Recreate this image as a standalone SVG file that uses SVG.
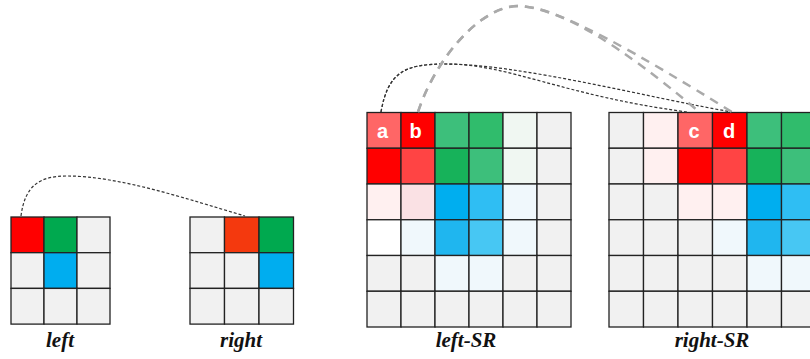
<svg xmlns="http://www.w3.org/2000/svg" width="810" height="359" viewBox="0 0 810 359">
<style>
.c{stroke:#222;stroke-width:1.3}
.g{fill:#F1F1F1}
.lbl{font-family:"Liberation Serif","Times New Roman",serif;font-weight:bold;font-style:italic;font-size:21px;fill:#111;text-anchor:middle}
.let{font-family:"Liberation Sans",Arial,sans-serif;font-weight:bold;font-size:20px;fill:#fff;text-anchor:middle}
.bk{fill:none;stroke:#333;stroke-width:1.2;stroke-dasharray:3 2}
.gr{fill:none;stroke:#AAAAAA;stroke-width:2.5;stroke-dasharray:9 7}
</style>
<rect width="810" height="359" fill="#fff"/>
<g id="left">
<g class="c">
<rect x="11" y="217" width="33" height="35.7" fill="#FF0000"/>
<rect x="44" y="217" width="33" height="35.7" fill="#00A94F"/>
<rect x="77" y="217" width="33" height="35.7" class="g"/>
<rect x="11" y="252.7" width="33" height="35.7" class="g"/>
<rect x="44" y="252.7" width="33" height="35.7" fill="#00ADEF"/>
<rect x="77" y="252.7" width="33" height="35.7" class="g"/>
<rect x="11" y="288.4" width="33" height="35.7" class="g"/>
<rect x="44" y="288.4" width="33" height="35.7" class="g"/>
<rect x="77" y="288.4" width="33" height="35.7" class="g"/>
</g>
<text class="lbl" x="60" y="347">left</text>
</g>
<g id="right">
<g class="c">
<rect x="190" y="217" width="34.5" height="35.7" class="g"/>
<rect x="224.5" y="217" width="34.5" height="35.7" fill="#F4390E"/>
<rect x="259" y="217" width="34.5" height="35.7" fill="#00A94F"/>
<rect x="190" y="252.7" width="34.5" height="35.7" class="g"/>
<rect x="224.5" y="252.7" width="34.5" height="35.7" class="g"/>
<rect x="259" y="252.7" width="34.5" height="35.7" fill="#00ADEF"/>
<rect x="190" y="288.4" width="34.5" height="35.7" class="g"/>
<rect x="224.5" y="288.4" width="34.5" height="35.7" class="g"/>
<rect x="259" y="288.4" width="34.5" height="35.7" class="g"/>
</g>
<text class="lbl" x="241" y="347">right</text>
</g>
<g id="left-SR">
<g class="c">
<rect x="367" y="112.5" width="34" height="35.75" fill="#FF6666"/>
<rect x="401" y="112.5" width="34" height="35.75" fill="#FF0000"/>
<rect x="435" y="112.5" width="34" height="35.75" fill="#3DBF7B"/>
<rect x="469" y="112.5" width="34" height="35.75" fill="#30BC6C"/>
<rect x="503" y="112.5" width="34" height="35.75" fill="#F0F7F2"/>
<rect x="537" y="112.5" width="34" height="35.75" class="g"/>
<rect x="367" y="148.25" width="34" height="35.75" fill="#FF0000"/>
<rect x="401" y="148.25" width="34" height="35.75" fill="#FF4444"/>
<rect x="435" y="148.25" width="34" height="35.75" fill="#17B25A"/>
<rect x="469" y="148.25" width="34" height="35.75" fill="#3DBF7B"/>
<rect x="503" y="148.25" width="34" height="35.75" fill="#F0F7F2"/>
<rect x="537" y="148.25" width="34" height="35.75" class="g"/>
<rect x="367" y="184" width="34" height="35.75" fill="#FFF0F0"/>
<rect x="401" y="184" width="34" height="35.75" fill="#FAE1E4"/>
<rect x="435" y="184" width="34" height="35.75" fill="#00AEEF"/>
<rect x="469" y="184" width="34" height="35.75" fill="#2FBEF3"/>
<rect x="503" y="184" width="34" height="35.75" fill="#F0F8FC"/>
<rect x="537" y="184" width="34" height="35.75" class="g"/>
<rect x="367" y="219.75" width="34" height="35.75" fill="#FFFFFF"/>
<rect x="401" y="219.75" width="34" height="35.75" fill="#F0F8FC"/>
<rect x="435" y="219.75" width="34" height="35.75" fill="#1FB6EF"/>
<rect x="469" y="219.75" width="34" height="35.75" fill="#47C7F3"/>
<rect x="503" y="219.75" width="34" height="35.75" fill="#F0F8FC"/>
<rect x="537" y="219.75" width="34" height="35.75" class="g"/>
<rect x="367" y="255.5" width="34" height="35.75" class="g"/>
<rect x="401" y="255.5" width="34" height="35.75" class="g"/>
<rect x="435" y="255.5" width="34" height="35.75" fill="#F0F8FC"/>
<rect x="469" y="255.5" width="34" height="35.75" fill="#F0F8FC"/>
<rect x="503" y="255.5" width="34" height="35.75" class="g"/>
<rect x="537" y="255.5" width="34" height="35.75" class="g"/>
<rect x="367" y="291.25" width="34" height="35.75" class="g"/>
<rect x="401" y="291.25" width="34" height="35.75" class="g"/>
<rect x="435" y="291.25" width="34" height="35.75" class="g"/>
<rect x="469" y="291.25" width="34" height="35.75" class="g"/>
<rect x="503" y="291.25" width="34" height="35.75" class="g"/>
<rect x="537" y="291.25" width="34" height="35.75" class="g"/>
</g>
<text class="let" x="382.5" y="137.5">a</text>
<text class="let" x="415.5" y="137.5">b</text>
<text class="lbl" x="466" y="347">left-SR</text>
</g>
<g id="right-SR">
<g class="c">
<rect x="609" y="112.5" width="34.5" height="35.75" class="g"/>
<rect x="643.5" y="112.5" width="34.5" height="35.75" fill="#FFF0F0"/>
<rect x="678" y="112.5" width="34.5" height="35.75" fill="#FF6666"/>
<rect x="712.5" y="112.5" width="34.5" height="35.75" fill="#FF0000"/>
<rect x="747" y="112.5" width="34.5" height="35.75" fill="#3DBF7B"/>
<rect x="781.5" y="112.5" width="34.5" height="35.75" fill="#30BC6C"/>
<rect x="609" y="148.25" width="34.5" height="35.75" class="g"/>
<rect x="643.5" y="148.25" width="34.5" height="35.75" fill="#FFF0F0"/>
<rect x="678" y="148.25" width="34.5" height="35.75" fill="#FF0000"/>
<rect x="712.5" y="148.25" width="34.5" height="35.75" fill="#FF4444"/>
<rect x="747" y="148.25" width="34.5" height="35.75" fill="#17B25A"/>
<rect x="781.5" y="148.25" width="34.5" height="35.75" fill="#3DBF7B"/>
<rect x="609" y="184" width="34.5" height="35.75" class="g"/>
<rect x="643.5" y="184" width="34.5" height="35.75" class="g"/>
<rect x="678" y="184" width="34.5" height="35.75" fill="#FFF0F0"/>
<rect x="712.5" y="184" width="34.5" height="35.75" fill="#FFF0F0"/>
<rect x="747" y="184" width="34.5" height="35.75" fill="#00AEEF"/>
<rect x="781.5" y="184" width="34.5" height="35.75" fill="#2FBEF3"/>
<rect x="609" y="219.75" width="34.5" height="35.75" class="g"/>
<rect x="643.5" y="219.75" width="34.5" height="35.75" class="g"/>
<rect x="678" y="219.75" width="34.5" height="35.75" class="g"/>
<rect x="712.5" y="219.75" width="34.5" height="35.75" fill="#F0F8FC"/>
<rect x="747" y="219.75" width="34.5" height="35.75" fill="#1FB6EF"/>
<rect x="781.5" y="219.75" width="34.5" height="35.75" fill="#47C7F3"/>
<rect x="609" y="255.5" width="34.5" height="35.75" class="g"/>
<rect x="643.5" y="255.5" width="34.5" height="35.75" class="g"/>
<rect x="678" y="255.5" width="34.5" height="35.75" class="g"/>
<rect x="712.5" y="255.5" width="34.5" height="35.75" class="g"/>
<rect x="747" y="255.5" width="34.5" height="35.75" fill="#F0F8FC"/>
<rect x="781.5" y="255.5" width="34.5" height="35.75" fill="#F0F8FC"/>
<rect x="609" y="291.25" width="34.5" height="35.75" class="g"/>
<rect x="643.5" y="291.25" width="34.5" height="35.75" class="g"/>
<rect x="678" y="291.25" width="34.5" height="35.75" class="g"/>
<rect x="712.5" y="291.25" width="34.5" height="35.75" class="g"/>
<rect x="747" y="291.25" width="34.5" height="35.75" class="g"/>
<rect x="781.5" y="291.25" width="34.5" height="35.75" class="g"/>
</g>
<text class="let" x="694" y="137.5">c</text>
<text class="let" x="729" y="137.5">d</text>
<text class="lbl" x="712" y="347">right-SR</text>
</g>
<g id="connectors">
<path class="bk" d="M21,216 C25,185 40,176 67,176 C120,176 190,200 245,216"/>
<path class="bk" d="M381,112 C388,72 405,64 445,64 C520,64 650,98 732,112"/>
<path class="bk" d="M381,112 C388,72 405,64 445,64 C510,64 560,95 687,112"/>
<path class="gr" d="M418,112 C435,60 480,5 520,6 C560,8 640,55 732,112"/>
<path class="gr" d="M418,112 C435,60 480,5 520,6 C560,8 620,45 697,110"/>
</g>
</svg>
